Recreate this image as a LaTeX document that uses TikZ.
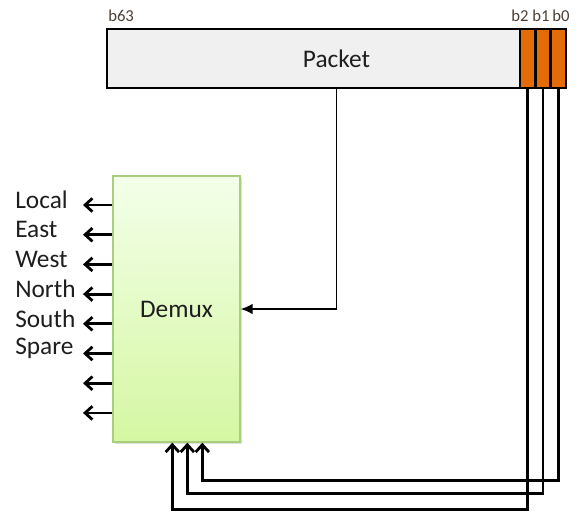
\documentclass[tikz,border=0pt]{standalone}
\usepackage{fontspec}
\setmainfont{Carlito}
\usetikzlibrary{arrows.meta, positioning, calc, shadows}
\definecolor{pktgray}{HTML}{F0F0F0}
\definecolor{bitorange}{HTML}{E36C09}
\definecolor{demuxtop}{HTML}{F3FFE9}
\definecolor{demuxbot}{HTML}{D5F7A2}
\definecolor{demuxedge}{HTML}{A9CF7E}
\definecolor{labelgray}{HTML}{4A4036}
\definecolor{textdark}{HTML}{1E1E1E}

\begin{document}
\begin{tikzpicture}[
    x=0.75pt, y=-0.75pt,
    font=\fontsize{19}{22}\selectfont, text=textdark,
    >={Straight Barb[length=5.5pt, width=10pt]},
    pkt/.style={draw, line width=2pt, fill=pktgray, minimum width=344.25pt, minimum height=44.25pt, inner sep=0pt},
    bitcell/.style={draw, line width=2pt, fill=bitorange, minimum width=11.4pt, minimum height=44.25pt, inner sep=0pt},
    demux/.style={draw=demuxedge, line width=1pt, top color=demuxtop, bottom color=demuxbot, minimum width=95.25pt, minimum height=199.5pt,
        drop shadow={shadow xshift=1.2pt, shadow yshift=-1.2pt, opacity=0.25}},
    wire/.style={line width=2.1pt, ->},
    bitlabel/.style={font=\fontsize{12.5}{14}\selectfont, text=labelgray, inner sep=0pt},
    portlabel/.style={anchor=west, inner sep=0pt},
]
\useasboundingbox (0,0) rectangle (580,511);

% -- packet and header bits --
\node[pkt] (packet) at (336.5,58.5) {Packet};
\node[bitcell] (b2) at (527.7,58.5) {};
\node[bitcell] (b1) at (543,58.5) {};
\node[bitcell] (b0) at (558.3,58.5) {};
\node[bitlabel, anchor=west] (lb63) at (108,16) {b63};
\node[bitlabel] (lb2) at (520,16) {b2};
\node[bitlabel] (lb1) at (541,16) {b1};
\node[bitlabel] (lb0) at (561,16) {b0};

% -- demultiplexer --
\node[demux] (demux) at (176.5,309) {Demux};

% -- packet into demux --
\draw[line width=1.3pt, -{Latex[length=9pt, width=8pt]}] (packet.south) |- (demux.east);

% -- select bits into demux --
\draw[wire] (b2.south) |- ($(demux.south west)+(60,67)$) -- ($(demux.south west)+(60,0)$);
\draw[wire] (b1.south) |- ($(demux.south west)+(75,51)$) -- ($(demux.south west)+(75,0)$);
\draw[wire] (b0.south) |- ($(demux.south west)+(90,38)$) -- ($(demux.south west)+(90,0)$);

% -- output ports --
\foreach \k in {0,...,7}{
  \coordinate (out\k) at (83,205+29.7*\k);
  \draw[wire] (out\k -| demux.west) -- (out\k);
}
\foreach \k/\lab in {0/Local, 1/East, 2/West, 3/North, 4/South, 5/Spare}
  \node[portlabel] (port\k) at ($(out\k)+(-68,-5)$) {\lab};
\end{tikzpicture}
\end{document}
